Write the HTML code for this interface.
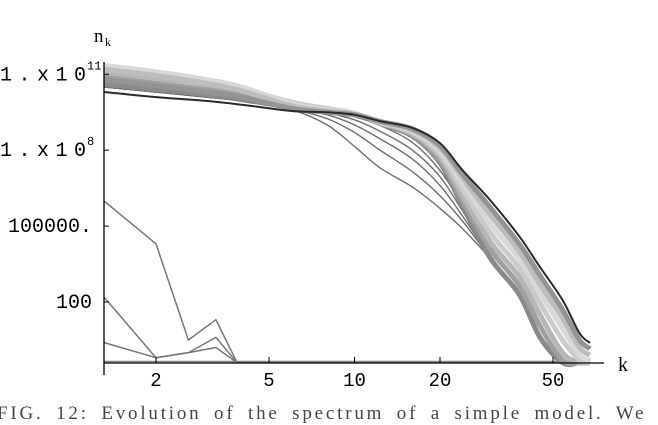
<!DOCTYPE html>
<html><head><meta charset="utf-8"><style>
body{margin:0;background:#fff;width:658px;height:421px;overflow:hidden;position:relative}
svg{position:absolute;left:0;top:0}
.cap{position:absolute;left:-3px;top:403px;font:19px "Liberation Serif",serif;color:#444;white-space:nowrap;letter-spacing:2.8px;word-spacing:5px}
</style></head><body>
<svg id="chart" width="658" height="421" xmlns="http://www.w3.org/2000/svg"></svg>
<div class="cap">FIG. 12: Evolution of the spectrum of a simple model. We</div>
<script>
const kGrid=[1.31,2,3,4,6,8,10,12.3,16,20,24,30,38,45,54,62,67.5];
const bandB1=[10.6,10.4,10.2,10.0,9.7,9.55,9.45,9.05,8.55,7.5,5.8,3.75,2.3,0.6,-0.4,-0.4,-0.4];
const bandB2=[10.9,10.65,10.4,10.2,9.8,9.6,9.45,9.07,8.6,7.62,6.0,4.1,2.65,1.05,-0.3,-0.4,-0.4];
const bandB3=[11.1,10.85,10.6,10.35,9.85,9.65,9.45,9.08,8.65,7.74,6.2,4.4,3.0,1.5,0.0,-0.4,-0.4];
const bandB4=[11.3,11.05,10.75,10.45,9.9,9.65,9.45,9.1,8.7,7.86,6.45,4.75,3.35,1.95,0.5,-0.3,-0.4];
const bandB5=[11.35,11.1,10.8,10.5,9.85,9.6,9.45,9.12,8.75,7.98,6.7,5.1,3.7,2.35,0.95,-0.1,-0.3];
const bandB6=[11.2,10.95,10.65,10.35,9.75,9.55,9.42,9.13,8.8,8.08,6.9,5.45,4.0,2.7,1.35,0.2,-0.1];
const bandB7=[10.8,10.55,10.3,10.1,9.65,9.5,9.4,9.14,8.84,8.18,7.05,5.75,4.3,3.05,1.7,0.5,0.15];
const finalF=[10.3,10.1,9.95,9.8,9.55,9.5,9.4,9.15,8.88,8.28,7.21,6.03,4.6,3.38,2.08,0.77,0.38];
const earlyE1=[10.5,10.3,10.1,9.95,9.6,9.0,8.15,7.3,6.54,5.7,4.9,3.75];
const earlyE2=[10.5,10.3,10.1,9.95,9.62,9.25,8.7,8.0,7.15,6.2,5.2,3.75];
const earlyE3=[10.5,10.3,10.1,9.95,9.63,9.4,9.0,8.45,7.65,6.6,5.4,3.75];
const earlyE4=[10.5,10.3,10.1,9.95,9.63,9.47,9.2,8.75,8.0,6.95,5.6,3.8];
const earlyE5=[10.5,10.3,10.1,9.95,9.63,9.52,9.32,8.98,8.3,7.2,5.8,3.8];
const kInit=[1.31,2,2.6,3.25,3.86,67.5];
const initI1=[6.0,4.3,0.5,1.3,-0.4,-0.4];
const initI2=[2.2,-0.2,0.0,0.6,-0.4,-0.4];
const initI3=[0.4,-0.2,0.0,0.2,-0.4,-0.4];
const xTicks=[2,5,10,20,50];
const yTicks=[2,5,8,11];
const yTickLabels=["100","100000.","1.x10","1.x10"];
const yTickSup=["","","8","11"];

const NS="http://www.w3.org/2000/svg";
const svg=document.getElementById('chart');
const X=k=>70.5+284*Math.log10(k);
const Y=v=>352.6-25.3*Math.max(v,-0.4);
function mk(t,a){const e=document.createElementNS(NS,t);for(const p in a)e.setAttribute(p,a[p]);svg.appendChild(e);return e;}
function pathD(ks,vs,smooth){
  const P=vs.map((v,i)=>[X(ks[i]),Y(v)]);
  let d='M'+P[0][0].toFixed(1)+','+P[0][1].toFixed(1);
  for(let i=0;i<P.length-1;i++){
    if(!smooth){d+='L'+P[i+1][0].toFixed(1)+','+P[i+1][1].toFixed(1);continue;}
    const p0=P[Math.max(i-1,0)],p1=P[i],p2=P[i+1],p3=P[Math.min(i+2,P.length-1)];
    const c1=[p1[0]+(p2[0]-p0[0])/6,p1[1]+(p2[1]-p0[1])/6];
    const c2=[p2[0]-(p3[0]-p1[0])/6,p2[1]-(p3[1]-p1[1])/6];
    d+='C'+c1[0].toFixed(1)+','+c1[1].toFixed(1)+' '+c2[0].toFixed(1)+','+c2[1].toFixed(1)+' '+p2[0].toFixed(1)+','+p2[1].toFixed(1);
  }
  return d;
}
function line(ks,vs,color,w,name,smooth){
  const p=mk('path',{d:pathD(ks,vs,smooth),fill:'none',stroke:color,'stroke-width':w,'stroke-linejoin':'round'});
  
  
}
line(kInit,initI3,'#777',1.5,'series-initial-3',false);
line(kInit,initI2,'#777',1.5,'series-initial-2',false);
line(kInit,initI1,'#777',1.5,'series-initial-1',false);
line([1.31,67.5],[-0.35,-0.35],'#888',1.5,'series-baseline',false);
[[earlyE1,'series-early-1'],[earlyE2,'series-early-2'],[earlyE3,'series-early-3'],[earlyE4,'series-early-4'],[earlyE5,'series-early-5']].forEach(s=>line(kGrid,s[0],'#6e6e6e',1.4,s[1],true));
[[bandB1,'#8a8a8a'],[bandB2,'#a0a0a0'],[bandB3,'#b6b6b6'],[bandB4,'#cbcbcb'],[bandB5,'#d8d8d8'],[bandB6,'#bdbdbd'],[bandB7,'#949494']].forEach((s,i)=>line(kGrid,s[0],s[1],5,'series-band-'+(i+1),true));
line(kGrid,finalF,'#2a2a2a',2,'series-final',true);
// axes
let a=mk('line',{x1:104,y1:363,x2:604,y2:363,stroke:'#000','stroke-width':1.3});

a=mk('line',{x1:104,y1:62,x2:104,y2:375,stroke:'#000','stroke-width':1.3});

xTicks.forEach(k=>{
  mk('line',{x1:X(k),y1:363,x2:X(k),y2:357,stroke:'#000'});
  const t=mk('text',{x:X(k),y:386,'text-anchor':'middle','font-family':'Liberation Mono, monospace','font-size':19});
  t.textContent=k;
  
});
yTicks.forEach((v,i)=>{
  mk('line',{x1:104,y1:Y(v),x2:109,y2:Y(v),stroke:'#000'});
  const t=mk('text',{x:yTickSup[i]?86:92,y:Y(v)+6,'text-anchor':'end','font-family':'Liberation Mono, monospace','font-size':20});
  if(yTickSup[i])t.setAttribute('textLength',86);
  t.textContent=yTickLabels[i];
  
  if(yTickSup[i]){const s=mk('text',{x:87,y:Y(v)-5,'font-family':'Liberation Mono, monospace','font-size':12});s.textContent=yTickSup[i];
  }
});
let t=mk('text',{x:618,y:371,'font-family':'Liberation Serif, serif','font-size':20});t.textContent='k';

t=mk('text',{x:94,y:42,'font-family':'Liberation Serif, serif','font-size':19});t.textContent='n';

t=mk('text',{x:105,y:46,'font-family':'Liberation Serif, serif','font-size':12});t.textContent='k';

</script>
</body></html>
